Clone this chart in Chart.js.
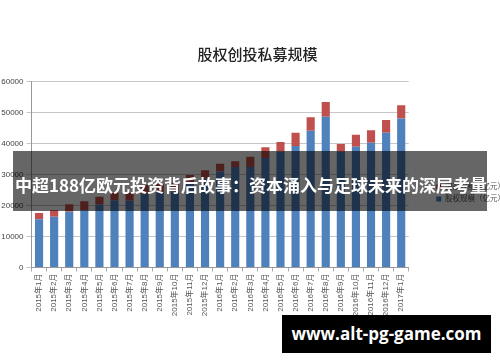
<!DOCTYPE html>
<html>
<head>
<meta charset="utf-8">
<script src="https://cdn.jsdelivr.net/npm/chart.js@4.4.0/dist/chart.umd.min.js"></script>
<style>
  body { margin: 0; background: #fff; }
  #wrap { position: relative; width: 500px; height: 362px; overflow: hidden; }
  #banner {
    position: absolute; left: 13px; top: 151px; width: 474px; height: 60px;
    background: rgba(0, 0, 0, 0.6); color: #fff;
    font: bold 17px "Noto Sans CJK SC"; line-height: 20px;
    padding-top: 24px; box-sizing: border-box; white-space: nowrap; text-indent: 2px;
  }
  #mark {
    position: absolute; left: 282px; top: 315px; width: 209px; height: 38px;
    background: #000; color: #fff; text-align: center;
    font: bold 17px "Open Sans"; line-height: 38px;
  }
</style>
</head>
<body>
<div id="wrap">
  <canvas id="chart" width="500" height="362"></canvas>
  <div id="banner">中超188亿欧元投资背后故事：资本涌入与足球未来的深层考量</div>
  <div id="mark">www.alt-pg-game.com</div>
</div>
<script>
const chartTitle = '股权创投私募规模';
const months = [
  '2015年1月', '2015年2月', '2015年3月', '2015年4月', '2015年5月', '2015年6月',
  '2015年7月', '2015年8月', '2015年9月', '2015年10月', '2015年11月', '2015年12月',
  '2016年1月', '2016年2月', '2016年3月', '2016年4月', '2016年5月', '2016年6月',
  '2016年7月', '2016年8月', '2016年9月', '2016年10月', '2016年11月', '2016年12月',
  '2017年1月'
];
// 股权规模 (blue, bottom of stack)
const equityValues = [
  15600, 16400, 18000, 18500, 20300, 21700, 21500, 23700, 24200, 24500, 27000, 28600,
  31000, 32400, 32400, 35300, 37300, 39200, 44100, 48650, 37300, 38950, 40250, 43450,
  48100
];
// 创投规模 (red, top of stack)
const ventureValues = [
  2000, 2100, 2400, 2900, 2500, 2500, 2600, 2900, 2800, 2800, 2800, 2800,
  2500, 1900, 3300, 3500, 3200, 4300, 4350, 4750, 2500, 3900, 4000, 4100,
  4200
];
const yMax = 60000;
const yStep = 10000;

const smallFont = { family: '"Liberation Sans", "Noto Sans CJK SC"', size: 8 };

const ctx = document.getElementById('chart').getContext('2d');
const chart = new Chart(ctx, {
  type: 'bar',
  data: {
    labels: months,
    datasets: [
      {
        label: '股权规模（亿元）',
        data: equityValues,
        backgroundColor: '#4f81bd',
        barPercentage: 0.54,
        categoryPercentage: 1
      },
      {
        label: '创投规模（亿元）',
        data: ventureValues,
        backgroundColor: '#c0504d',
        barPercentage: 0.54,
        categoryPercentage: 1
      }
    ]
  },
  options: {
    responsive: false,
    animation: false,
    layout: { padding: { left: 0, right: -15, top: 0, bottom: 0 } },
    plugins: {
      title: {
        display: true,
        text: chartTitle,
        color: '#222',
        font: { family: '"Noto Sans CJK SC"', size: 15, weight: 500 },
        padding: { top: 45.5, bottom: 18 }
      },
      legend: {
        position: 'right',
        reverse: true,
        title: { display: true, text: '', font: { size: 1 }, padding: { top: 0, bottom: 23 } },
        labels: {
          boxWidth: 5,
          boxHeight: 5,
          padding: 4.5,
          color: '#555',
          font: { family: '"Liberation Sans", "Noto Sans CJK SC"', size: 7.5 }
        }
      },
      tooltip: { enabled: false }
    },
    scales: {
      x: {
        stacked: true,
        grid: { drawOnChartArea: false, tickLength: 4, color: '#aaa' },
        border: { color: '#999' },
        ticks: {
          minRotation: 90,
          maxRotation: 90,
          autoSkip: false,
          padding: 2,
          color: '#555',
          font: smallFont
        },
        afterFit: scale => { scale.height = 94.5; }
      },
      y: {
        stacked: true,
        min: 0,
        max: yMax,
        ticks: {
          stepSize: yStep,
          padding: 3,
          color: '#444',
          font: smallFont,
          callback: v => String(v)
        },
        grid: { color: '#c6c6c6', tickLength: 5 },
        border: { color: '#999' },
        afterFit: scale => { scale.width = 31.5; }
      },
      y2: {
        type: 'linear',
        position: 'right',
        grid: { display: false },
        ticks: { display: false },
        border: { display: false },
        afterFit: scale => { scale.width = 23; }
      }
    }
  }
});
</script>
</body>
</html>
